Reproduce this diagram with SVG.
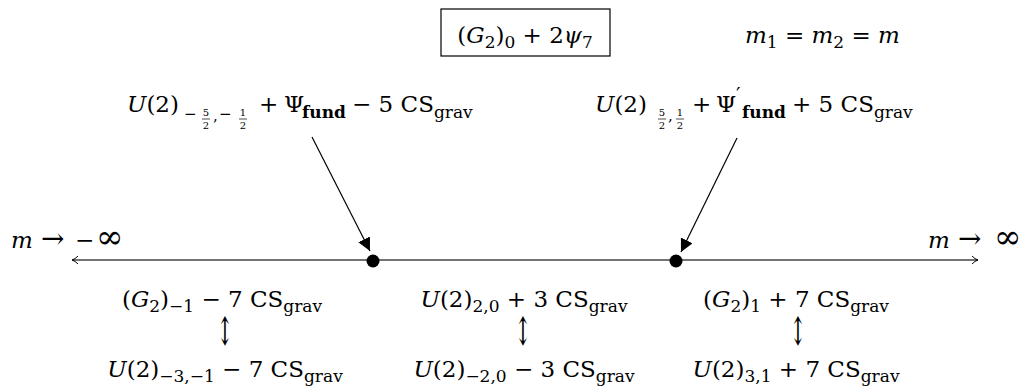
<svg xmlns="http://www.w3.org/2000/svg" width="1027" height="387" viewBox="0 0 1027 387">
<style>
text{font-family:"DejaVu Serif","Liberation Serif",serif;font-size:23px;fill:#000}
.i{font-style:italic}
.s{font-size:17px}
.m{font-size:15px}
.f{font-size:10px}
.b{font-weight:bold}
.ar{font-size:20px}
.to{font-size:28px}
.inf{font-size:33px}
</style>
<defs>
<marker id="open" viewBox="0 0 10 10" refX="9" refY="5" markerWidth="10" markerHeight="10" markerUnits="userSpaceOnUse" orient="auto-start-reverse">
<path d="M3,1 Q6,4.2 9,5 Q6,5.8 3,9" fill="none" stroke="#000" stroke-width="1"/>
</marker>
<marker id="tri" viewBox="0 0 12 12" refX="12" refY="6" markerWidth="13" markerHeight="13" markerUnits="userSpaceOnUse" orient="auto">
<path d="M0,0 L12,6 L0,12 Z" fill="#000"/>
</marker>
</defs>

<g id="connectors">
<line x1="72" y1="260" x2="978" y2="260" stroke="#444" stroke-width="1.3" marker-start="url(#open)" marker-end="url(#open)"/>
<line x1="312" y1="137" x2="370" y2="251" stroke="#000" stroke-width="1.2" marker-end="url(#tri)"/>
<line x1="737" y1="138" x2="681" y2="252" stroke="#000" stroke-width="1.2" marker-end="url(#tri)"/>
</g>

<g id="title">
<rect x="441" y="9" width="169" height="47" fill="none" stroke="#000" stroke-width="1.2"/>
<text x="525" y="43" text-anchor="middle">(<tspan class="i">G</tspan><tspan class="s" dy="5">2</tspan><tspan dy="-5">)</tspan><tspan class="s" dy="5">0</tspan><tspan dy="-5"> + 2</tspan><tspan class="i">ψ</tspan><tspan class="s" dy="5">7</tspan></text>
</g>

<g id="masses">
<text x="745" y="43"><tspan class="i">m</tspan><tspan class="s" dy="5">1</tspan><tspan dy="-5"> = </tspan><tspan class="i">m</tspan><tspan class="s" dy="5">2</tspan><tspan dy="-5"> = </tspan><tspan class="i">m</tspan></text>
</g>

<g id="label-left">
<text x="127" y="112"><tspan class="i">U</tspan>(2)</text>
<text x="184" y="119" class="m">−</text>
<text x="206" y="116" class="f" text-anchor="middle">5</text>
<line x1="202" y1="119" x2="210" y2="119" stroke="#000" stroke-width="0.7"/>
<text x="206" y="128.5" class="f" text-anchor="middle">2</text>
<text x="213" y="121" class="m">,</text>
<text x="219" y="119" class="m">−</text>
<text x="243" y="116" class="f" text-anchor="middle">1</text>
<line x1="239" y1="119" x2="247" y2="119" stroke="#000" stroke-width="0.7"/>
<text x="243" y="128.5" class="f" text-anchor="middle">2</text>
<text x="259" y="112">+</text>
<text x="284" y="112">Ψ</text>
<text x="302" y="118" class="s b">fund</text>
<text x="352" y="112">− 5 CS<tspan class="s" dy="6">grav</tspan></text>
</g>

<g id="label-right">
<text x="595" y="112"><tspan class="i">U</tspan>(2)</text>
<text x="662" y="116" class="f" text-anchor="middle">5</text>
<line x1="658" y1="119" x2="666" y2="119" stroke="#000" stroke-width="0.7"/>
<text x="662" y="128.5" class="f" text-anchor="middle">2</text>
<text x="668" y="121" class="m">,</text>
<text x="680" y="116" class="f" text-anchor="middle">1</text>
<line x1="676" y1="119" x2="684" y2="119" stroke="#000" stroke-width="0.7"/>
<text x="680" y="128.5" class="f" text-anchor="middle">2</text>
<text x="692" y="112">+</text>
<text x="716" y="112">Ψ</text>
<text x="736" y="102" style="font-size:20px">′</text>
<text x="742" y="118" class="s b">fund</text>
<text x="792" y="112">+ 5 CS<tspan class="s" dy="6">grav</tspan></text>
</g>

<g id="dot-left"><circle cx="373" cy="261" r="6.5" fill="#000"/></g>
<g id="dot-right"><circle cx="676" cy="261" r="6.5" fill="#000"/></g>

<g id="end-left"><text y="248"><tspan class="i" x="11">m</tspan><tspan class="to" x="41">→</tspan><tspan x="75">−</tspan><tspan class="inf" x="96">∞</tspan></text></g>
<g id="end-right"><text y="248"><tspan class="i" x="928">m</tspan><tspan class="to" x="958">→</tspan><tspan class="inf" x="994">∞</tspan></text></g>

<g id="region-left">
<text x="222" y="307" text-anchor="middle">(<tspan class="i">G</tspan><tspan class="s" dy="5">2</tspan><tspan dy="-5">)</tspan><tspan class="s" dy="5">−1</tspan><tspan dy="-5"> − 7 CS</tspan><tspan class="s" dy="5">grav</tspan></text>
<text transform="translate(225,345) scale(1,1.95)" text-anchor="middle" class="ar">↕</text>
<text x="225" y="377" text-anchor="middle"><tspan class="i">U</tspan>(2)<tspan class="s" dy="5">−3,−1</tspan><tspan dy="-5"> − 7 CS</tspan><tspan class="s" dy="5">grav</tspan></text>
</g>

<g id="region-middle">
<text x="524" y="307" text-anchor="middle"><tspan class="i">U</tspan>(2)<tspan class="s" dy="5">2,0</tspan><tspan dy="-5"> + 3 CS</tspan><tspan class="s" dy="5">grav</tspan></text>
<text transform="translate(523,345) scale(1,1.95)" text-anchor="middle" class="ar">↕</text>
<text x="524" y="377" text-anchor="middle"><tspan class="i">U</tspan>(2)<tspan class="s" dy="5">−2,0</tspan><tspan dy="-5"> − 3 CS</tspan><tspan class="s" dy="5">grav</tspan></text>
</g>

<g id="region-right">
<text x="796" y="307" text-anchor="middle">(<tspan class="i">G</tspan><tspan class="s" dy="5">2</tspan><tspan dy="-5">)</tspan><tspan class="s" dy="5">1</tspan><tspan dy="-5"> + 7 CS</tspan><tspan class="s" dy="5">grav</tspan></text>
<text transform="translate(798,345) scale(1,1.95)" text-anchor="middle" class="ar">↕</text>
<text x="796" y="377" text-anchor="middle"><tspan class="i">U</tspan>(2)<tspan class="s" dy="5">3,1</tspan><tspan dy="-5"> + 7 CS</tspan><tspan class="s" dy="5">grav</tspan></text>
</g>
</svg>
